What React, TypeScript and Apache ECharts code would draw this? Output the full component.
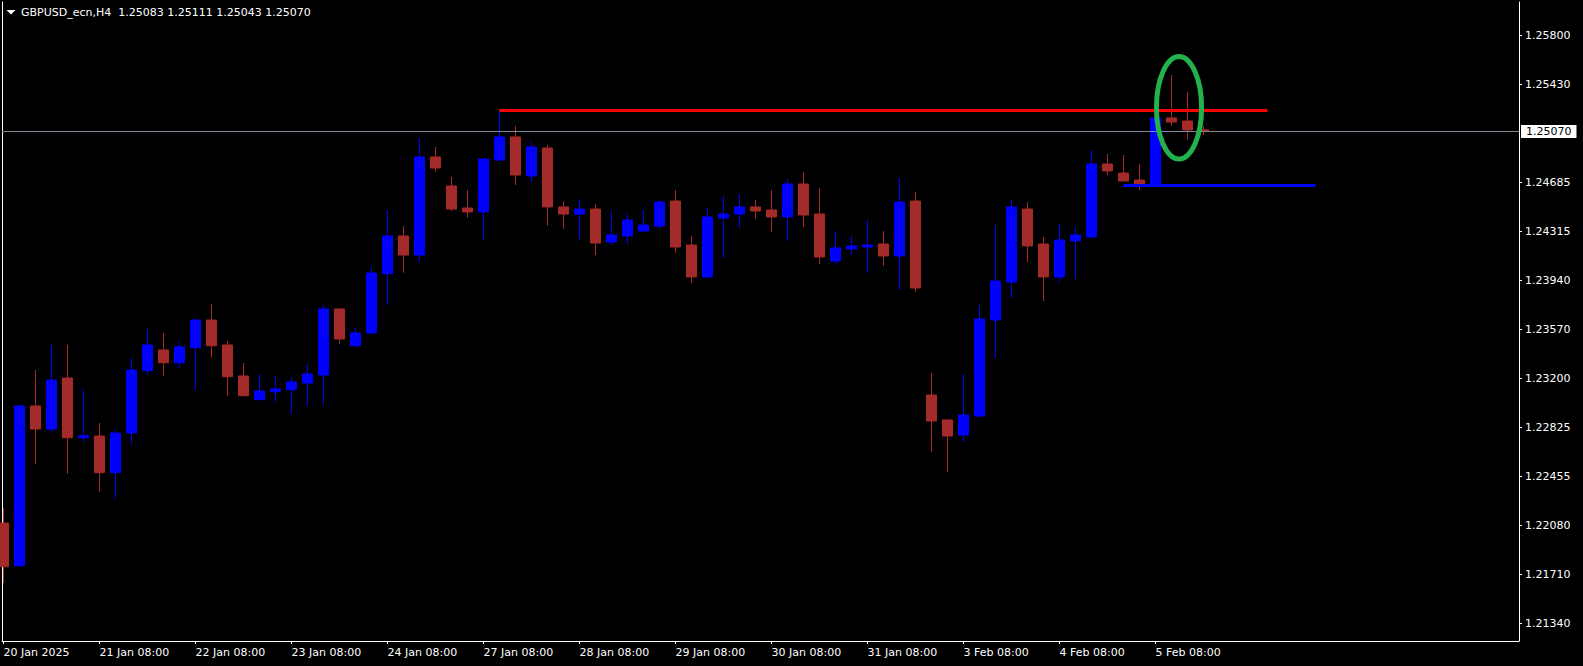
import { useEffect, useRef } from "react";
import * as echarts from "echarts";

const symbolName = "GBPUSD_ecn,H4";

const openP = [
  1.22100, 1.21776, 1.22988, 1.22813, 1.23200, 1.22747, 1.22760, 1.22482, 1.22783, 1.23256,
  1.23413, 1.23316, 1.23430, 1.23640, 1.23451, 1.23216, 1.23036, 1.23096, 1.23112, 1.23162,
  1.23223, 1.23724, 1.23445, 1.23542, 1.23992, 1.24278, 1.24133, 1.24877, 1.24657, 1.24490,
  1.24460, 1.24854, 1.25029, 1.24733, 1.24945, 1.24498, 1.24444, 1.24482, 1.24232, 1.24278,
  1.24315, 1.24353, 1.24543, 1.24209, 1.23967, 1.24414, 1.24444, 1.24498, 1.24475, 1.24422,
  1.24672, 1.24444, 1.24088, 1.24179, 1.24194, 1.24217, 1.24126, 1.24543, 1.23071, 1.22882,
  1.22768, 1.22912, 1.23640, 1.23929, 1.24482, 1.24217, 1.23967, 1.24240, 1.24270, 1.24824,
  1.24755, 1.24702, 1.24672, 1.25173, 1.25150, 1.25083,
];
const highP = [
  1.22212, 1.22990, 1.23261, 1.23451, 1.23451, 1.23117, 1.22859, 1.22813, 1.23350, 1.23572,
  1.23542, 1.23481, 1.23648, 1.23762, 1.23481, 1.23314, 1.23231, 1.23216, 1.23208, 1.23309,
  1.23754, 1.23726, 1.23580, 1.24042, 1.24475, 1.24353, 1.25021, 1.24953, 1.24725, 1.24626,
  1.24864, 1.25233, 1.25112, 1.24998, 1.24968, 1.24543, 1.24558, 1.24520, 1.24467, 1.24452,
  1.24475, 1.24551, 1.24626, 1.24278, 1.24490, 1.24581, 1.24596, 1.24551, 1.24626, 1.24710,
  1.24763, 1.24642, 1.24315, 1.24278, 1.24399, 1.24315, 1.24718, 1.24611, 1.23238, 1.22884,
  1.23231, 1.23754, 1.24361, 1.24551, 1.24535, 1.24270, 1.24369, 1.24346, 1.24930, 1.24900,
  1.24892, 1.24824, 1.25175, 1.25499, 1.25370, 1.25111,
];
const lowP = [
  1.21647, 1.21769, 1.22550, 1.22785, 1.22474, 1.22717, 1.22338, 1.22282, 1.22694, 1.23223,
  1.23218, 1.23278, 1.23112, 1.23354, 1.23066, 1.23064, 1.23034, 1.23011, 1.22930, 1.22990,
  1.22996, 1.23461, 1.23436, 1.23534, 1.23754, 1.23999, 1.24083, 1.24765, 1.24467, 1.24416,
  1.24249, 1.24846, 1.24664, 1.24689, 1.24356, 1.24331, 1.24255, 1.24133, 1.24209, 1.24217,
  1.24313, 1.24331, 1.24149, 1.23921, 1.23959, 1.24111, 1.24338, 1.24407, 1.24308, 1.24240,
  1.24346, 1.24065, 1.24058, 1.24133, 1.23997, 1.24050, 1.23868, 1.23853, 1.22639, 1.22487,
  1.22715, 1.22910, 1.23352, 1.23807, 1.24080, 1.23784, 1.23921, 1.23951, 1.24268, 1.24740,
  1.24693, 1.24626, 1.24664, 1.25112, 1.25006, 1.25043,
];
const closeP = [
  1.21769, 1.22988, 1.22813, 1.23185, 1.22747, 1.22763, 1.22482, 1.22783, 1.23261, 1.23451,
  1.23316, 1.23436, 1.23640, 1.23445, 1.23210, 1.23066, 1.23102, 1.23117, 1.23170, 1.23231,
  1.23724, 1.23496, 1.23542, 1.23997, 1.24278, 1.24133, 1.24877, 1.24793, 1.24482, 1.24460,
  1.24862, 1.25029, 1.24740, 1.24953, 1.24498, 1.24444, 1.24482, 1.24224, 1.24285, 1.24399,
  1.24361, 1.24535, 1.24194, 1.23967, 1.24422, 1.24444, 1.24498, 1.24467, 1.24422, 1.24672,
  1.24437, 1.24118, 1.24187, 1.24202, 1.24209, 1.24126, 1.24535, 1.23883, 1.22874, 1.22760,
  1.22920, 1.23648, 1.23936, 1.24498, 1.24202, 1.23967, 1.24247, 1.24285, 1.24824, 1.24771,
  1.24695, 1.24672, 1.25173, 1.25142, 1.25082, 1.25070,
];

const xTickIndex = [0, 6, 12, 18, 24, 30, 36, 42, 48, 54, 60, 66, 72];
const xTickLabels = [
  "20 Jan 2025", "21 Jan 08:00", "22 Jan 08:00", "23 Jan 08:00", "24 Jan 08:00",
  "27 Jan 08:00", "28 Jan 08:00", "29 Jan 08:00", "30 Jan 08:00", "31 Jan 08:00",
  "3 Feb 08:00", "4 Feb 08:00", "5 Feb 08:00",
];
const yTickValues = [
  1.258, 1.2543, 1.24685, 1.24315, 1.2394, 1.2357, 1.232, 1.22825, 1.22455, 1.2208, 1.2171, 1.2134,
];

const xRange = [-0.09375, 94.71875];
const yRange = [1.2120516, 1.2605262];

const bidPrice = 1.2507;
// [fromIndex, toIndex, price]
const resistanceLine = [31, 79, 1.25233];
const supportLine = [70, 82, 1.24661];
// [centerIndex, centerPrice, radiusIndex, radiusPrice]
const ellipseMark = [73.47, 1.2525, 1.41, 0.00389];

const FONT = "DejaVu Sans";

export default function App() {
  const ref = useRef<HTMLDivElement>(null);

  useEffect(() => {
    if (!ref.current) return;
    const chart = echarts.init(ref.current, undefined, { renderer: "svg" });
    const candles = openP.map((o, i) => [i, o, closeP[i], lowP[i], highP[i]]);
    const last = openP.length - 1;
    const header = `${symbolName}  ${openP[last].toFixed(5)} ${highP[last].toFixed(5)} ${lowP[last].toFixed(5)} ${closeP[last].toFixed(5)}`;

    chart.setOption({
      animation: false,
      backgroundColor: "#000000",
      title: {
        text: header,
        left: 21,
        top: 7,
        padding: 0,
        textStyle: { color: "#ffffff", fontSize: 11, fontWeight: "normal", fontFamily: FONT },
      },
      grid: { left: 2, right: 64, top: 2, bottom: 25, containLabel: false },
      xAxis: {
        type: "value",
        min: xRange[0],
        max: xRange[1],
        axisLine: { show: true, onZero: false, lineStyle: { color: "#ffffff", width: 1 } },
        axisTick: { show: true, customValues: xTickIndex, length: 3, lineStyle: { color: "#ffffff" } },
        axisLabel: {
          show: true,
          customValues: xTickIndex,
          formatter: (v: number) => {
            const k = xTickIndex.indexOf(Math.round(v));
            return k >= 0 ? xTickLabels[k] : "";
          },
          align: "left",
          color: "#ffffff",
          fontSize: 11,
          fontFamily: FONT,
          margin: 6,
        },
        splitLine: { show: false },
      },
      yAxis: [
        {
          type: "value",
          position: "right",
          min: yRange[0],
          max: yRange[1],
          axisLine: { show: true, onZero: false, lineStyle: { color: "#ffffff", width: 1 } },
          axisTick: { show: true, customValues: yTickValues, length: 3, lineStyle: { color: "#ffffff" } },
          axisLabel: {
            show: true,
            customValues: yTickValues,
            formatter: (v: number) => v.toFixed(5),
            color: "#ffffff",
            fontSize: 11,
            fontFamily: FONT,
            margin: 6,
          },
          splitLine: { show: false },
        },
        {
          type: "value",
          position: "left",
          min: yRange[0],
          max: yRange[1],
          axisLine: { show: true, onZero: false, lineStyle: { color: "#ffffff", width: 1 } },
          axisTick: { show: false },
          axisLabel: { show: false },
          splitLine: { show: false },
        },
      ],
      series: [
        {
          type: "candlestick",
          xAxisIndex: 0,
          yAxisIndex: 0,
          data: candles,
          encode: { x: 0, y: [1, 2, 3, 4] },
          barWidth: 10,
          clip: true,
          itemStyle: {
            color: "#0000ff",
            color0: "#a52a2a",
            borderColor: "#0000ff",
            borderColor0: "#a52a2a",
            borderWidth: 1,
          },
          markLine: {
            silent: true,
            symbol: ["none", "none"],
            animation: false,
            data: [
              [
                {
                  coord: [xRange[0], bidPrice],
                  lineStyle: { color: "#7f8b98", width: 1, type: "solid" },
                  label: {
                    show: true,
                    position: "end",
                    distance: 2,
                    formatter: () => bidPrice.toFixed(5),
                    backgroundColor: "#ffffff",
                    color: "#000000",
                    fontSize: 11,
                    fontFamily: FONT,
                    padding: [1, 5, 1, 5],
                    lineHeight: 11,
                  },
                },
                { coord: [xRange[1], bidPrice] },
              ],
              [
                {
                  coord: [resistanceLine[0], resistanceLine[2]],
                  lineStyle: { color: "#ff0000", width: 3, type: "solid" },
                  label: { show: false },
                },
                { coord: [resistanceLine[1], resistanceLine[2]] },
              ],
              [
                {
                  coord: [supportLine[0], supportLine[2]],
                  lineStyle: { color: "#0000ff", width: 3, type: "solid" },
                  label: { show: false },
                },
                { coord: [supportLine[1], supportLine[2]] },
              ],
            ],
          },
        },
      ],
    });

    const c = chart.convertToPixel({ gridIndex: 0 }, [ellipseMark[0], ellipseMark[1]]) as number[];
    const e = chart.convertToPixel({ gridIndex: 0 }, [ellipseMark[0] + ellipseMark[2], ellipseMark[1] + ellipseMark[3]]) as number[];
    chart.setOption({
      graphic: [
        {
          type: "polygon",
          shape: { points: [[6.5, 10], [15.5, 10], [11, 14.5]] },
          style: { fill: "#ffffff" },
          silent: true,
        },
        {
          type: "ellipse",
          shape: { cx: c[0], cy: c[1], rx: Math.abs(e[0] - c[0]), ry: Math.abs(c[1] - e[1]) },
          style: { fill: "none", stroke: "#22b14c", lineWidth: 5 },
          silent: true,
          z: 100,
        },
      ],
    });

    return () => chart.dispose();
  }, []);

  return (
    <div
      ref={ref}
      style={{ position: "fixed", left: 0, top: 0, width: 1583, height: 666, background: "#000" }}
    />
  );
}
